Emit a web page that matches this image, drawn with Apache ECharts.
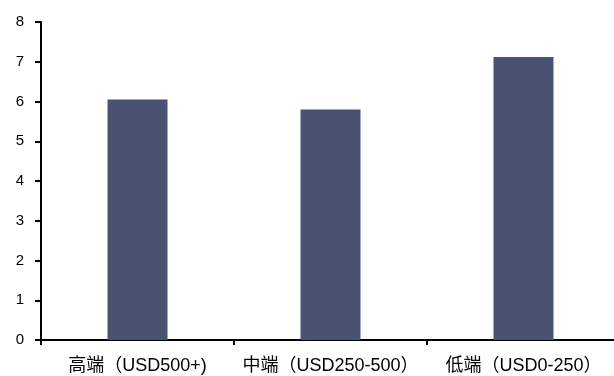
<!DOCTYPE html>
<html><head><meta charset="utf-8">
<script src="https://cdn.jsdelivr.net/npm/echarts@6/dist/echarts.min.js"></script>
<style>html,body{margin:0;padding:0;background:#fff}#c{width:614px;height:376px}</style>
</head><body><div id="c"></div>
<script>
const categories = ['高端（USD500+)', '中端（USD250-500）', '低端（USD0-250）'];
const values = [6.05, 5.8, 7.12];
const yTicks = { min: 0, max: 8, interval: 1 };

const chart = echarts.init(document.getElementById('c'), null, { renderer: 'canvas' });
chart.setOption({
  animation: false,
  grid: { left: 41, width: 579, top: 22, height: 318, containLabel: false, outerBoundsMode: 'none' },
  xAxis: {
    type: 'category', data: categories, boundaryGap: true,
    axisLine: { lineStyle: { color: '#000', width: 2 } },
    axisTick: { show: true, alignWithLabel: false, length: 5, lineStyle: { color: '#000', width: 2 } },
    axisLabel: { color: '#000', fontSize: 18, fontFamily: '"Liberation Sans", "Noto Sans CJK SC", sans-serif', margin: 17, interval: 0 }
  },
  yAxis: {
    type: 'value', min: yTicks.min, max: yTicks.max, interval: yTicks.interval,
    axisLine: { show: true, lineStyle: { color: '#000', width: 2 } },
    axisTick: { show: true, length: 6, lineStyle: { color: '#000', width: 2 } },
    splitLine: { show: false },
    axisLabel: { color: '#000', fontSize: 15, fontFamily: '"Liberation Sans", sans-serif', margin: 17 }
  },
  series: [{
    type: 'bar', data: values, barWidth: 60,
    itemStyle: { color: '#4a5271' }
  }]
});
</script></body></html>
